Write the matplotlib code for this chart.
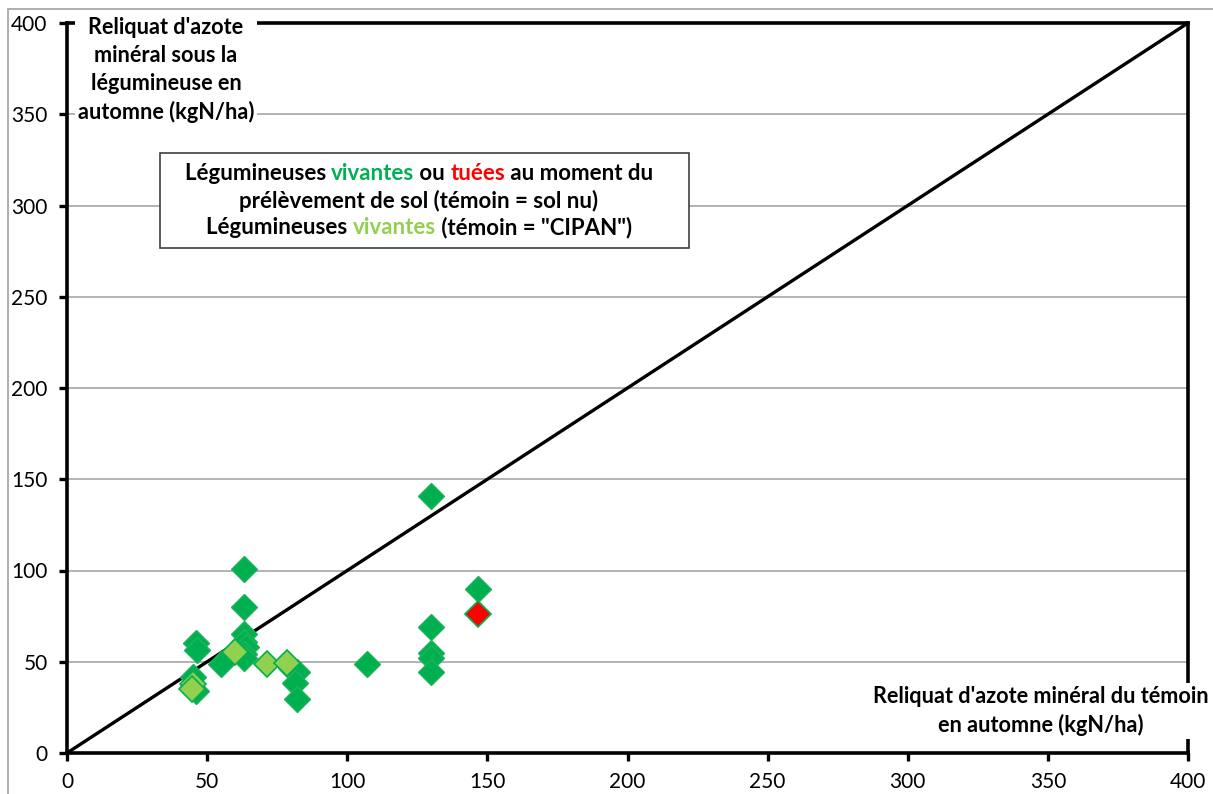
import matplotlib
matplotlib.use('Agg')
import matplotlib.pyplot as plt
from matplotlib.transforms import IdentityTransform
from matplotlib.patches import Rectangle

# ---------------- data ----------------
# Légumineuses vivantes (témoin = sol nu)
vivantes_x = [130, 146.5, 130, 130, 130, 130, 107, 63, 63, 63, 63, 64, 63, 63,
              46, 46.5, 55, 45, 46, 80, 82, 81.5, 82]
vivantes_y = [141, 90, 69, 55, 52, 44.5, 49, 101, 80, 65, 61, 58, 54, 52,
              60.5, 56.5, 48.5, 41.5, 34, 46.5, 44.5, 38.5, 29.5]
# Légumineuses tuées (témoin = sol nu)
tuees_x = [146.5]
tuees_y = [76]
# Légumineuses vivantes (témoin = "CIPAN")
cipan_x = [45, 44.5, 60, 71.5, 78.5]
cipan_y = [38, 35, 55.5, 49, 49.5]

ticks = [0, 50, 100, 150, 200, 250, 300, 350, 400]
diag = [0, 400]

DARK = '#00B050'
LIGHT = '#92D050'
RED = '#FF0000'

W, H = 1213, 794
plt.rcParams['font.family'] = ['Lato', 'DejaVu Sans']
fig = plt.figure(figsize=(W / 100, H / 100), dpi=100)
ax = fig.add_axes([67 / W, 1 - 753 / H, (1188 - 67) / W, (753 - 23) / H])

ax.set_xlim(0, 400)
ax.set_ylim(0, 400)
ax.set_xticks(ticks)
ax.set_yticks(ticks)
ax.yaxis.grid(True, color='#A6A6A6', lw=1.2)
ax.xaxis.grid(False)
ax.set_axisbelow(True)
for s in ax.spines.values():
    s.set_linewidth(2.6)
    s.set_color('black')
ax.tick_params(axis='both', direction='out', length=6, width=2.4, labelsize=15)
ax.tick_params(axis='y', pad=8)
ax.tick_params(axis='x', pad=8)

ax.plot(diag, diag, color='black', lw=2.4, zorder=3, solid_capstyle='butt')

ms = 13.5
ax.plot(vivantes_x, vivantes_y, 'D', ms=ms, mfc=DARK, mec='#1FB35C', mew=1.0, zorder=4,
        linestyle='none')
ax.plot(cipan_x, cipan_y, 'D', ms=ms, mfc=LIGHT, mec=DARK, mew=1.2, zorder=5,
        linestyle='none')
ax.plot(tuees_x, tuees_y, 'D', ms=ms, mfc=RED, mec=DARK, mew=1.2, zorder=6,
        linestyle='none')

# figure border (Excel chart area)
fig.add_artist(Rectangle((8 / W, -0.1), 1.2, 1 - 9 / H + 0.1, transform=fig.transFigure,
                         fill=False, edgecolor='#A0A0A0', lw=1.2, zorder=0))

ident = IdentityTransform()
LBL = dict(fontsize=15.6, fontweight='bold', color='black')

# Y axis title (white box over gridlines/spine)
fig.text(166, H - 70, "Reliquat d'azote\nminéral sous la\nlégumineuse en\nautomne (kgN/ha)",
         transform=ident, ha='center', va='center', multialignment='center',
         linespacing=1.42, zorder=10,
         bbox=dict(facecolor='white', edgecolor='none', pad=2.0), **LBL)

# X axis title
fig.text(1041, H - 711, "Reliquat d'azote minéral du témoin\nen automne (kgN/ha)",
         transform=ident, ha='center', va='center', multialignment='center',
         linespacing=1.42, zorder=10,
         bbox=dict(facecolor='white', edgecolor='none', pad=2.0), **LBL)

# legend-like text box
fig.add_artist(Rectangle((160, H - 248), 529, 95, transform=ident, facecolor='white',
                         edgecolor='#404040', lw=1.2, zorder=9))

renderer = fig.canvas.get_renderer()
lines = [
    [("Légumineuses ", 'black'), ("vivantes", DARK), (" ou ", 'black'), ("tuées", RED),
     (" au moment du", 'black')],
    [("prélèvement de sol (témoin = sol nu)", 'black')],
    [("Légumineuses ", 'black'), ("vivantes", LIGHT), (" (témoin = \"CIPAN\")", 'black')],
]
baselines = [180, 208, 234]
cx = 419
FS = 16
for pieces, yb in zip(lines, baselines):
    full = ''.join(p for p, _ in pieces)
    t = fig.text(0, 0, full, transform=ident, fontsize=FS, fontweight='bold')
    wfull = t.get_window_extent(renderer).width
    t.remove()
    x0 = cx - wfull / 2
    prefix = ''
    for s, c in pieces:
        if prefix:
            tp = fig.text(0, 0, prefix + 'x', transform=ident, fontsize=FS, fontweight='bold')
            tx = fig.text(0, 0, 'x', transform=ident, fontsize=FS, fontweight='bold')
            off = tp.get_window_extent(renderer).width - tx.get_window_extent(renderer).width
            tp.remove(); tx.remove()
        else:
            off = 0
        fig.text(x0 + off, H - yb, s, transform=ident, fontsize=FS, fontweight='bold',
                 color=c, ha='left', va='baseline', zorder=11)
        prefix += s

fig.savefig('out.png', dpi=100)
